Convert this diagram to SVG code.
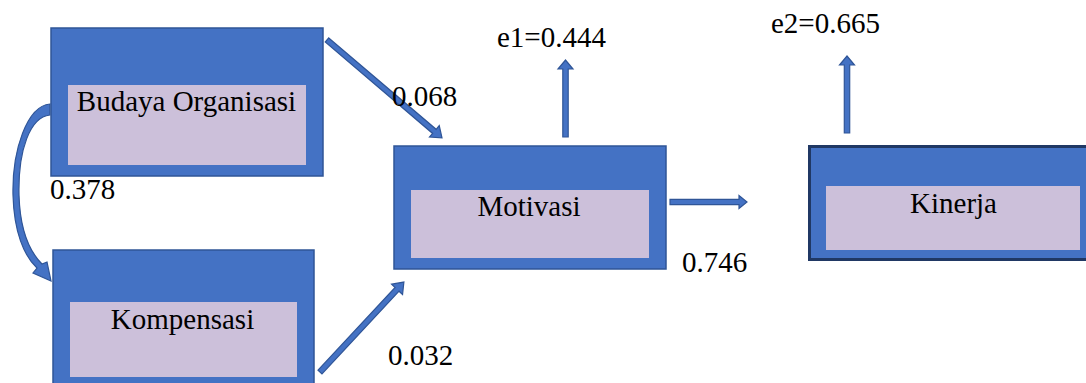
<svg xmlns="http://www.w3.org/2000/svg" width="1086" height="383" viewBox="0 0 1086 383">
<style>
.box{fill:#4472c4;stroke:#2f5597;stroke-width:1.5}
.inner{fill:#ccc0da}
.t{font-family:'Liberation Serif','Times New Roman',serif;font-size:29px;fill:#000}
.mid{text-anchor:middle}
.arr{fill:#4472c4;stroke:#2f5597;stroke-width:1.2;stroke-linejoin:miter}
</style>
<rect width="1086" height="383" fill="#fff"/>
<g id="budaya">
<rect class="box" x="51" y="28" width="272" height="148"/>
<rect class="inner" x="68" y="85" width="238" height="80"/>
<text class="t mid" x="186.5" y="111">Budaya Organisasi</text>
</g>
<g id="kompensasi">
<rect class="box" x="53" y="250" width="261" height="140"/>
<rect class="inner" x="70" y="302" width="227" height="75"/>
<text class="t mid" x="182.5" y="329">Kompensasi</text>
</g>
<g id="motivasi">
<rect class="box" x="394" y="146" width="272" height="123"/>
<rect class="inner" x="411" y="190" width="238" height="68"/>
<text class="t mid" x="529" y="216">Motivasi</text>
</g>
<g id="kinerja">
<rect class="box" x="809.5" y="146.5" width="300" height="113" style="stroke:#203864;stroke-width:3"/>
<rect class="inner" x="826" y="186" width="254" height="64"/>
<text class="t mid" x="953.5" y="213">Kinerja</text>
</g>
<g id="connectors">
<path class="arr" d="M50,104 C27,106 12,150 13,195 C14,232 24,256 37,268 L33,273 L51,281 L47,262 L42,264 C30,252 20,230 19,195 C18,150 30,117 50,115 Z"/>
<polygon class="arr" transform="translate(327,40) rotate(40.4)" points="0,-2.7 141,-2.7 141,-7.5 151,0 141,7.5 141,2.7 0,2.7"/>
<polygon class="arr" transform="translate(320,372) rotate(-47)" points="0,-2.7 113,-2.7 113,-7.5 123,0 113,7.5 113,2.7 0,2.7"/>
<polygon class="arr" transform="translate(565.5,137) rotate(-90)" points="0,-2.7 68,-2.7 68,-7.5 77,0 68,7.5 68,2.7 0,2.7"/>
<polygon class="arr" transform="translate(847,133) rotate(-90)" points="0,-2.7 68,-2.7 68,-7.5 77,0 68,7.5 68,2.7 0,2.7"/>
<polygon class="arr" transform="translate(670,202)" points="0,-2.7 69,-2.7 69,-6.5 77,0 69,6.5 69,2.7 0,2.7"/>
</g>
<g id="labels">
<text class="t" x="392" y="106">0.068</text>
<text class="t" x="50" y="199">0.378</text>
<text class="t" x="388" y="365">0.032</text>
<text class="t" x="497" y="47">e1=0.444</text>
<text class="t" x="682" y="272">0.746</text>
<text class="t" x="771" y="33">e2=0.665</text>
</g>
</svg>
